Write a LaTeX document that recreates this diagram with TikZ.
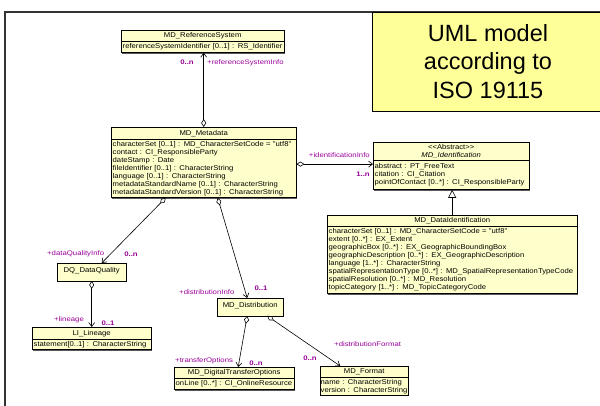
\documentclass[tikz,border=0pt]{standalone}
\usepackage{fontspec}
\usetikzlibrary{arrows.meta,shadows}
\newfontfamily\umlfont[FakeStretch=1.1]{Liberation Sans}
\newfontfamily\rolefont[FakeStretch=1.18]{Liberation Sans}
\newfontfamily\notefont{Liberation Sans}
\definecolor{umlyel}{RGB}{255,255,204}
\definecolor{noteyel}{RGB}{255,255,153}
\definecolor{purp}{RGB}{153,0,153}

\tikzset{
  classname/.style={draw=black, fill=umlyel, font=\umlfont\fontsize{7}{8}\selectfont,
    inner sep=1.5pt, align=center, anchor=north west,
    drop shadow={shadow xshift=1.2pt, shadow yshift=-1.2pt, fill=black!65, opacity=1}},
  classattr/.style={classname, align=left, anchor=north},
  lonebox/.style={classname, text height=7.5pt, text depth=6pt, inner ysep=2pt},
  role/.style={font=\rolefont\fontsize{6.6}{7}\selectfont, text=purp, inner sep=0pt},
  mult/.style={role, font=\rolefont\fontsize{6.6}{7}\selectfont\bfseries},
  aggr/.style={line width=0.6pt, {Diamond[open,length=8pt,width=5pt]}-{Straight Barb[length=4pt,width=6pt]}},
  gener/.style={line width=0.6pt, -{Triangle[open,length=8pt,width=8pt]}},
  note/.style={draw=black, fill=noteyel, font=\notefont\fontsize{23.5}{28.3}\selectfont, align=center,
    drop shadow={shadow xshift=1.2pt, shadow yshift=-1.2pt, fill=black!50, opacity=1}}
}

\begin{document}
\begin{tikzpicture}[x=1pt,y=-1pt]
        \useasboundingbox (0,0) rectangle (600,405);

        % Frame and title box
        \draw[line width=1.4pt, draw=black!80] (5,12) rectangle (640,440);
        \node[note, minimum width=232pt, minimum height=99pt] (umlnote) at (488,61.5) {UML model\\according to\\ISO 19115};

        % Classes
        \node[classname, minimum width=163pt, minimum height=11pt] (refsys) at (121,30) {MD\_ReferenceSystem};
        \node[classattr, text width=160pt, minimum height=11pt] (refsysattr) at (refsys.south) {referenceSystemIdentifier [0..1] : RS\_Identifier};

        \node[classname, minimum width=185pt, minimum height=12pt] (meta) at (111,127) {MD\_Metadata};
        \node[classattr, text width=182pt, minimum height=58pt] (metaattr) at (meta.south) {characterSet [0..1] : MD\_CharacterSetCode = "utf8"\\contact : CI\_ResponsibleParty\\dateStamp : Date\\fileIdentifier [0..1] : CharacterString\\language [0..1] : CharacterString\\metadataStandardName [0..1] : CharacterString\\metadataStandardVersion [0..1] : CharacterString};

        \node[classname, minimum width=156pt, minimum height=18pt] (ident) at (373,142) {<\kern0pt<Abstract>\kern0pt>\\\textit{MD\_Identification}};
        \node[classattr, text width=153pt, minimum height=29pt] (identattr) at (ident.south) {abstract : PT\_FreeText\\citation : CI\_Citation\\pointOfContact [0..*] : CI\_ResponsibleParty};

        \node[classname, minimum width=250pt, minimum height=11pt] (dataid) at (327,215) {MD\_DataIdentification};
        \node[classattr, text width=247pt, minimum height=67pt] (dataidattr) at (dataid.south) {characterSet [0..1] : MD\_CharacterSetCode = "utf8"\\extent [0..*] : EX\_Extent\\geographicBox [0..*] : EX\_GeographicBoundingBox\\geographicDescription [0..*] : EX\_GeographicDescription\\language [1..*] : CharacterString\\spatialRepresentationType [0..*] : MD\_SpatialRepresentationTypeCode\\spatialResolution [0..*] : MD\_Resolution\\topicCategory [1..*] : MD\_TopicCategoryCode};

        \node[lonebox, minimum width=69pt] (dq) at (57,263) {DQ\_DataQuality};

        \node[classname, minimum width=119pt, minimum height=12pt] (lineage) at (32,327) {LI\_Lineage};
        \node[classattr, text width=116pt, minimum height=10pt] (lineageattr) at (lineage.south) {statement[0..1] : CharacterString};

        \node[lonebox, minimum width=66pt] (dist) at (217,298) {MD\_Distribution};

        \node[classname, minimum width=120pt, minimum height=11pt] (dto) at (174,367) {MD\_DigitalTransferOptions};
        \node[classattr, text width=117pt, minimum height=11pt] (dtoattr) at (dto.south) {onLine [0..*] : CI\_OnlineResource};

        \node[classname, minimum width=88pt, minimum height=11pt] (fmt) at (320,366) {MD\_Format};
        \node[classattr, text width=87pt, inner xsep=0.5pt, minimum height=17pt] (fmtattr) at (fmt.south) {name : CharacterString\\version : CharacterString};

        % Aggregations
        \draw[aggr] (meta.north) -- (meta.north |- refsysattr.south);
        \draw[aggr] (metaattr.east |- identattr.172) -- (identattr.172);
        \draw[aggr] ([xshift=-38pt]metaattr.south) -- ([xshift=10pt]dq.north);
        \draw[aggr] ([xshift=14pt]metaattr.south) -- ([xshift=-3pt]dist.north);
        \draw[aggr] (dq.south) -- (lineage.north);
        \draw[aggr] ([xshift=-3pt]dist.south) -- ([xshift=4pt]dto.north);
        \draw[aggr] ([xshift=17pt]dist.south) -- ([xshift=-24pt]fmt.north);

        % Generalization
        \draw[gener] (dataid.north) -- (dataid.north |- identattr.south);

        % Role names and multiplicities
        \node[mult] at (187,62) {0..n};
        \node[role, anchor=west] at (207,63) {+referenceSystemInfo};
        \node[role, anchor=east] at (370,155) {+identificationInfo};
        \node[mult] at (363,174) {1..n};
        \node[role, anchor=west] at (47,254) {+dataQualityInfo};
        \node[mult] at (131,254) {0..n};
        \node[role, anchor=west] at (54,320) {+lineage};
        \node[mult] at (108,323) {0..1};
        \node[role, anchor=west] at (179,292) {+distributionInfo};
        \node[mult] at (261,288) {0..1};
        \node[role, anchor=west] at (175,361) {+transferOptions};
        \node[mult] at (256,363) {0..n};
        \node[mult] at (310,358) {0..n};
        \node[role, anchor=west] at (334,344) {+distributionFormat};
    \end{tikzpicture}
\end{document}
